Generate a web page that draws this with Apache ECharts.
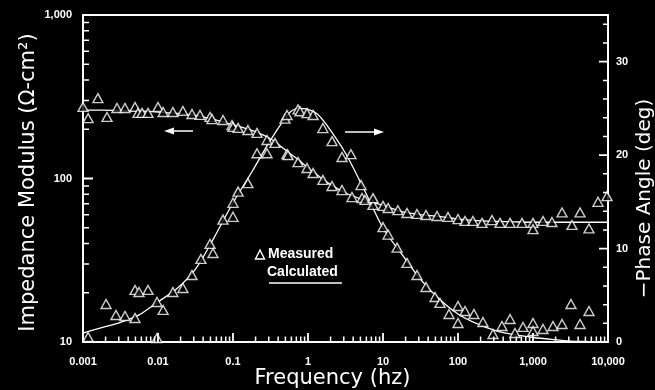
<!DOCTYPE html>
<html>
<head>
<meta charset="utf-8">
<script src="https://cdn.jsdelivr.net/npm/echarts@6/dist/echarts.min.js"></script>
<style>
html,body{margin:0;padding:0;background:#000;}
#chart{width:655px;height:390px;}
</style>
</head>
<body>
<div id="chart"></div>
<script>
// ---- data ----
const xTickValues = [0.001, 0.01, 0.1, 1, 10, 100, 1000, 10000];
const xTickLabels = ['0.001', '0.01', '0.1', '1', '10', '100', '1,000', '10,000'];
const zTickValues = [10, 100, 1000];
const zTickLabels = ['10', '100', '1,000'];
const phaseTickValues = [0, 10, 20, 30];

const impMeasFreq = [0.001, 0.00117, 0.00158, 0.00209, 0.00284, 0.00363, 0.00494, 0.00541, 0.00612, 0.00736,
  0.01, 0.0117, 0.0158, 0.0215, 0.0284, 0.0363, 0.0494, 0.0525, 0.0736, 0.097,
  0.1, 0.117, 0.158, 0.209, 0.284, 0.363, 0.525, 0.541, 0.736, 0.97,
  1.17, 1.58, 2.09, 2.84, 3.86, 5.25, 5.75, 7.36, 10, 11.7,
  15.8, 20.9, 28.4, 37.4, 52.5, 73.6, 100, 124, 158, 209,
  284, 363, 494, 713, 1000, 1000, 1360, 1790, 2440, 3310,
  4240, 5580, 7360, 9700];
const impMeasVal = [274, 234, 310, 238, 270, 270, 274, 252, 252, 252,
  274, 255, 255, 259, 248, 245, 238, 231, 228, 212,
  207, 204, 198, 190, 172, 165, 141, 139, 126, 116,
  108, 98, 90, 85, 77, 76, 74, 69, 68, 66,
  64, 61.5, 60.7, 59.8, 59, 58.2, 56.5, 55, 55, 53.5,
  55.7, 53.5, 53.5, 53.5, 53.5, 49, 55, 54.2, 62, 52,
  62, 49.5, 72, 78];

const phaseMeasFreq = [0.00117, 0.00203, 0.00275, 0.00363, 0.00494, 0.00494, 0.00558, 0.00736, 0.0097, 0.0097,
  0.0117, 0.0158, 0.0215, 0.0284, 0.0374, 0.0494, 0.0541, 0.0736, 0.1, 0.1,
  0.117, 0.158, 0.209, 0.284, 0.494, 0.525, 0.736, 0.783, 0.97, 1.17,
  1.58, 2.09, 2.84, 3.74, 5.09, 7.36, 10, 11.7, 15.4, 20.9,
  28.4, 37.4, 49.4, 57.5, 75.9, 100, 124, 100, 163, 215,
  293, 386, 494, 575, 736, 1000, 1000, 1360, 1850, 2440,
  3210, 4240, 5580];
const phaseMeasVal = [0.54, 4.07, 2.89, 2.78, 2.57, 5.57, 5.35, 5.57, 0.43, 4.28,
  3.43, 5.35, 5.78, 7.17, 8.89, 10.5, 9.53, 13.1, 13.4, 14.9,
  16.1, 17.0, 20.2, 20.2, 23.9, 24.3, 24.9, 24.7, 24.5, 24.3,
  22.9, 21.5, 19.8, 20.1, 16.8, 15.4, 12.3, 11.5, 10.1, 8.46,
  7.17, 5.89, 4.82, 4.18, 3.0, 3.85, 3.32, 2.03, 3.0, 2.14,
  0.86, 1.71, 2.46, 0.96, 1.61, 2.03, 1.18, 1.39, 1.71, 1.93,
  4.07, 1.93, 3.32];

const calcFreq = [0.001, 0.00178, 0.00316, 0.00562, 0.01, 0.0178, 0.0316, 0.0562, 0.1, 0.178,
  0.316, 0.562, 0.75, 1, 1.33, 1.78, 3.16, 5.62, 10, 17.8,
  31.6, 56.2, 100, 178, 316, 562, 1000, 1780, 3160, 5620, 10000];
const impCalcVal = [262, 262, 261, 259, 255, 250, 243, 229, 213, 197,
  175, 143, 130, 116, 105, 95, 81.5, 73.8, 68.4, 62.8,
  60.2, 58.6, 56.5, 55.3, 54.7, 54.3, 54, 54, 54, 54, 54];
const phaseCalcVal = [0.96, 1.54, 2.1, 2.9, 4.3, 5.7, 7.8, 11.2, 14.9, 18.2,
  21.6, 24.5, 25.0, 24.9, 24.4, 23.2, 20.2, 16.3, 12.2, 9.4,
  6.7, 4.6, 3.0, 1.96, 1.23, 0.78, 0.48, 0.27, 0.1, 0.05, 0];

// ---- minor tick positions ----
function minorLog(lo, hi) {
  const out = [];
  for (let e = lo; e < hi; e++) for (let m = 2; m <= 9; m++) out.push(+(m * Math.pow(10, e)).toPrecision(6));
  return out;
}
const xMinor = minorLog(-3, 4);
const zMinor = minorLog(1, 3);
const phaseMinor = [];
for (let v = 2; v < 35; v += 2) if (v % 10 !== 0) phaseMinor.push(v);

const W = '#ffffff';
const labelFont = {color: W, fontFamily: 'Liberation Sans, Arial, sans-serif', fontWeight: 'bold', fontSize: 11};
const titleFont = {color: W, fontFamily: 'DejaVu Sans, sans-serif', fontSize: 21};

const chart = echarts.init(document.getElementById('chart'), null, {renderer: 'canvas'});
const zip = (a, b) => a.map((v, i) => [v, b[i]]);

// tick marks drawn through the axes' own scales (short line segments)
function tickSeries(values, yAxisIndex, side, frac, width) {
  const data = [];
  values.forEach(v => {
    if (side === 'bottom') { data.push([v, 10], [v, 10 * Math.pow(10, frac)], null); }
    else if (side === 'left') { data.push([0.001, v], [0.001 * Math.pow(10, frac), v], null); }
    else { data.push([10000, v], [10000 / Math.pow(10, frac), v], null); }
  });
  return {
    type: 'line', xAxisIndex: 0, yAxisIndex: yAxisIndex, silent: true, clip: false, z: 5,
    data: data, showSymbol: false, connectNulls: false, symbol: 'none',
    lineStyle: {color: W, width: width}
  };
}

const option = {
  backgroundColor: '#000',
  animation: false,
  grid: {left: 83, right: 47, top: 15, bottom: 48, containLabel: false, outerBoundsMode: 'none',
    show: true, borderColor: W, borderWidth: 2, backgroundColor: 'transparent'},
  xAxis: [{
    type: 'log', logBase: 10, min: 0.001, max: 10000,
    name: 'Frequency (hz)', nameLocation: 'middle', nameGap: 26, nameMoveOverlap: false,
    nameTextStyle: Object.assign({}, titleFont, {padding: [0, 26, 0, 0]}),
    axisLine: {lineStyle: {color: W, width: 2}},
    axisTick: {show: false},
    axisLabel: Object.assign({}, labelFont, {margin: 14, customValues: xTickValues,
      formatter: v => xTickLabels[Math.round(Math.log10(v)) + 3]}),
    splitLine: {show: false}, minorTick: {show: false}
  }],
  yAxis: [{
    type: 'log', logBase: 10, min: 10, max: 1000, position: 'left',
    name: 'Impedance Modulus (\u03A9-cm\u00B2)', nameLocation: 'middle', nameGap: 44, nameMoveOverlap: false,
    nameTextStyle: Object.assign({}, titleFont, {padding: [0, 8, 0, 0]}),
    axisLine: {show: true, lineStyle: {color: W, width: 2}},
    axisTick: {show: false},
    axisLabel: Object.assign({}, labelFont, {margin: 11, customValues: zTickValues,
      formatter: v => zTickLabels[Math.round(Math.log10(v)) - 1]}),
    splitLine: {show: false}
  }, {
    type: 'value', min: 0, max: 35, interval: 10, position: 'right',
    name: '\u2212Phase Angle (deg)', nameLocation: 'middle', nameGap: 27, nameMoveOverlap: false,
    nameTextStyle: Object.assign({}, titleFont, {fontSize: 20, padding: [0, 40, 0, 0]}),
    axisLine: {show: true, lineStyle: {color: W, width: 2}},
    axisTick: {show: false},
    axisLabel: Object.assign({}, labelFont, {margin: 8, customValues: phaseTickValues}),
    splitLine: {show: false}
  }],
  series: [{
    type: 'line', name: 'Calculated |Z|', xAxisIndex: 0, yAxisIndex: 0,
    data: zip(calcFreq, impCalcVal), showSymbol: false, smooth: 0.3,
    lineStyle: {color: W, width: 1.3}, z: 2
  }, {
    type: 'line', name: 'Calculated phase', xAxisIndex: 0, yAxisIndex: 1,
    data: zip(calcFreq, phaseCalcVal), showSymbol: false, smooth: 0.3,
    lineStyle: {color: W, width: 1.3}, z: 2
  }, {
    type: 'scatter', name: 'Measured |Z|', xAxisIndex: 0, yAxisIndex: 0,
    data: zip(impMeasFreq, impMeasVal), symbol: 'triangle', symbolSize: [10, 9],
    itemStyle: {color: '#000', borderColor: W, borderWidth: 1.4}, z: 3
  }, {
    type: 'scatter', name: 'Measured phase', xAxisIndex: 0, yAxisIndex: 1,
    data: zip(phaseMeasFreq, phaseMeasVal), symbol: 'triangle', symbolSize: [10, 9],
    itemStyle: {color: '#000', borderColor: W, borderWidth: 1.4}, z: 3
  },
    // bottom: pixel length / 163.5 px per decade of left axis
    tickSeries(xTickValues, 0, 'bottom', 9 / 163.5, 1.8),
    tickSeries(xMinor, 0, 'bottom', 5.5 / 163.5, 1.5),
    // left/right: pixel length / 75 px per decade of x axis
    tickSeries(zTickValues, 0, 'left', 10 / 75, 1.8),
    tickSeries(zMinor, 0, 'left', 6 / 75, 1.5),
    tickSeries(phaseTickValues, 1, 'right', 9 / 75, 1.8),
    tickSeries(phaseMinor, 1, 'right', 5 / 75, 1.5)
  ],
  graphic: [
    // legend
    {type: 'polygon', shape: {points: [[260, 250], [255.5, 259], [264.5, 259]]},
      style: {fill: '#000', stroke: W, lineWidth: 1.4}},
    {type: 'text', left: 268, top: 247, style: {text: 'Measured', fill: W, font: 'bold 14px Liberation Sans, Arial, sans-serif'}},
    {type: 'text', left: 267, top: 265, style: {text: 'Calculated', fill: W, font: 'bold 14px Liberation Sans, Arial, sans-serif'}},
    {type: 'line', shape: {x1: 269, y1: 283, x2: 342, y2: 283}, style: {stroke: W, lineWidth: 1.3}},
    // left arrow (impedance)
    {type: 'line', shape: {x1: 172, y1: 131, x2: 193, y2: 131}, style: {stroke: W, lineWidth: 1.5}},
    {type: 'polygon', shape: {points: [[164, 131], [174, 127.5], [174, 134.5]]}, style: {fill: W}},
    // right arrow (phase)
    {type: 'line', shape: {x1: 345, y1: 132, x2: 376, y2: 132}, style: {stroke: W, lineWidth: 1.5}},
    {type: 'polygon', shape: {points: [[384, 132], [374, 128.5], [374, 135.5]]}, style: {fill: W}}
  ]
};
chart.setOption(option);
</script>
</body>
</html>
